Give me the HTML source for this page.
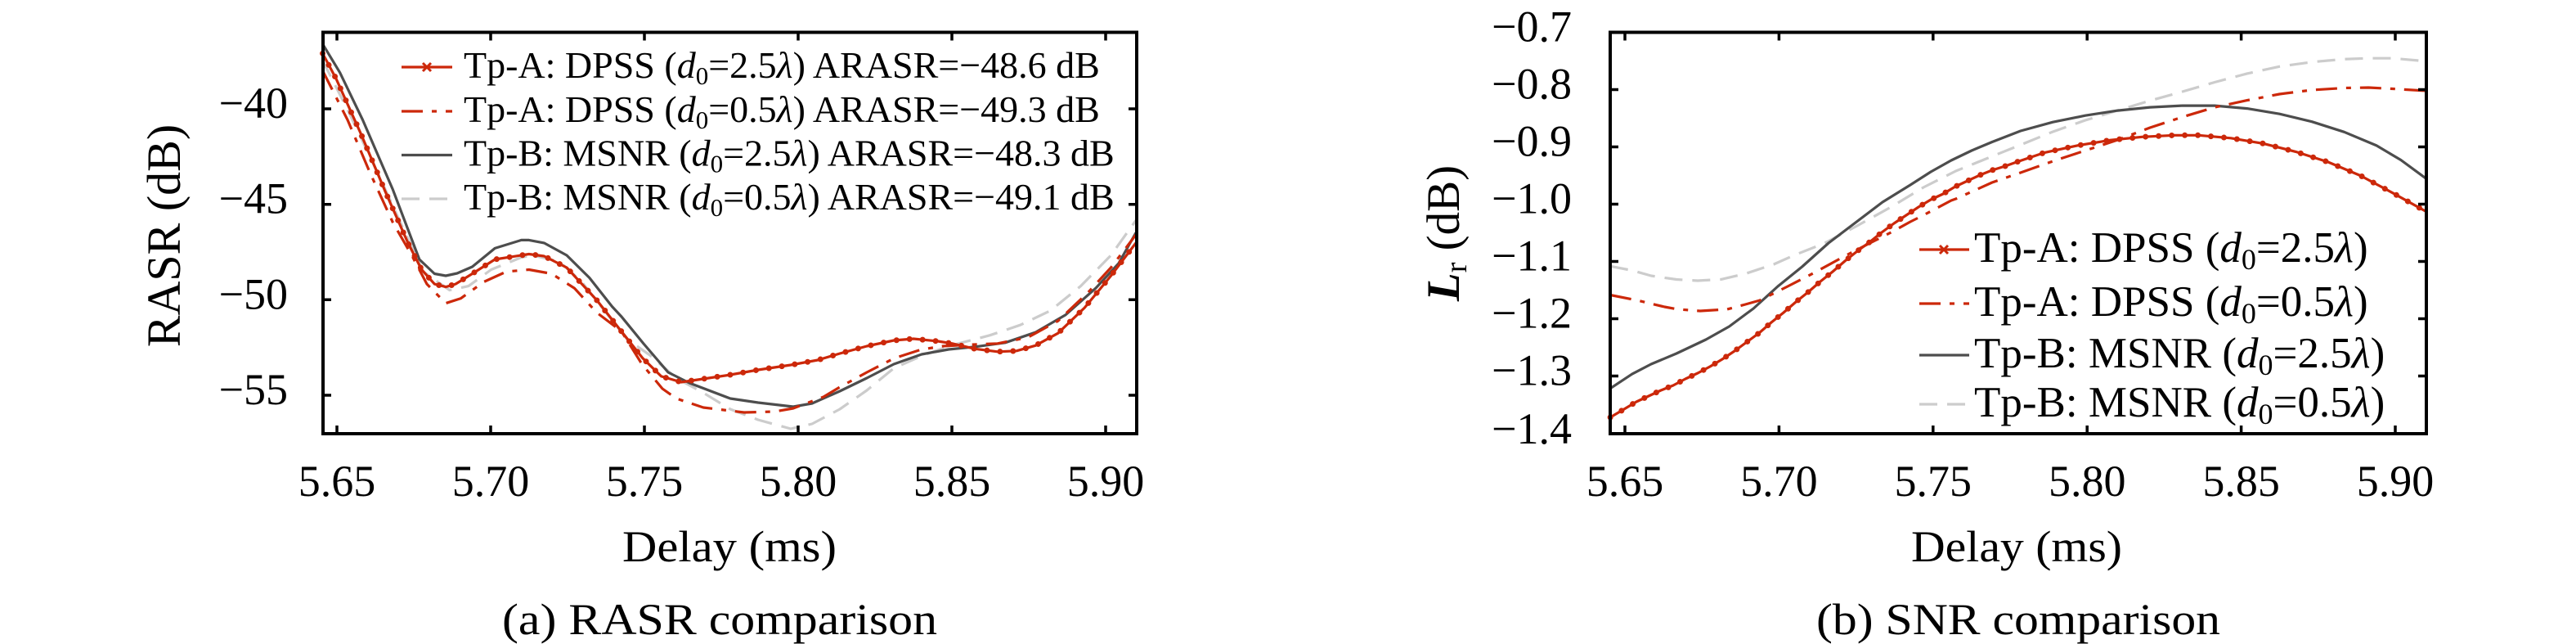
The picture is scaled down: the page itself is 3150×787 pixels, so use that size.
<!DOCTYPE html>
<html><head><meta charset="utf-8"><style>
html,body{margin:0;padding:0;background:#fff;}
svg{display:block;}
text{font-family:"Liberation Serif","DejaVu Serif",serif;fill:#000;}
</style></head><body>
<svg width="3150" height="787" viewBox="0 0 3150 787" xmlns="http://www.w3.org/2000/svg">
<rect width="3150" height="787" fill="#fff"/>

<!-- ============ LEFT PLOT ============ -->
<g fill="none" stroke-linejoin="round" stroke-linecap="butt">
<!-- B2 light gray dashed -->
<polyline stroke="#cccccc" stroke-width="3.2" stroke-dasharray="22 12" points="394.5,73.8 425.0,134.0 462.0,211.7 498.9,291.9 517.4,332.0 549.8,354.6 572.9,349.6 600.6,329.5 637.5,314.5 651.4,312.0 683.8,319.5 711.5,344.6 739.2,379.6 767.0,414.8 794.7,434.0 827,462 860,480 893,500 927,513 967,524 993,518 1027,500 1060,477 1093,450 1127,435 1160,423 1210.6,409.7 1247.6,397.2 1284.6,379.6 1321.5,349.6 1358.5,312.0 1389.0,269.3"/>
<!-- B1 dark gray solid -->
<polyline stroke="#4d4d4d" stroke-width="3.2" points="394.5,53.7 415.7,88.8 443.5,146.5 480.4,231.8 512.8,317.0 531.3,334.5 545.1,337.0 559.0,334.0 577.5,326.0 605.2,303.4 637.5,293.4 646.8,293.4 665.3,296.9 693.0,312.0 720.8,339.5 748.5,374.6 760,387 787,420 817,455 843,468 893,487 927,492 970,497 993,493 1027,478 1060,462 1093,445 1127,433 1160,427 1192.2,423.8 1229.1,418.8 1266.1,406.2 1303.1,384.7 1340.0,352.1 1367.8,322.0 1389.0,284.4"/>
<!-- A2 red dash-dot -->
<polyline stroke="#cc280a" stroke-width="3.2" stroke-dasharray="26 11 6 11" points="394.5,86.3 425.0,146.5 452.7,211.7 480.4,271.9 503.5,312.0 522.0,347.1 545.1,370.6 563.6,364.6 591.4,344.6 619.1,332.0 646.8,329.5 674.5,334.5 702.3,352.1 730.0,382.2 760,405 785,445 810,475 827,487 860,498 910,504 947,503 970,499 1007,485 1027,473 1060,455 1093,438 1127,427 1153,423 1182.9,421.3 1219.9,419.8 1256.9,412.3 1293.8,392.2 1330.8,357.1 1358.5,327.0 1389.0,286.9"/>
<!-- A1 red solid with markers -->
<polyline stroke="#cc280a" stroke-width="3.2" points="394.5,65.3 411.1,96.4 441.6,164.1 471.2,234.3 498.9,296.9 515.6,329.5 531.3,347.1 545.1,350.6 557.1,347.1 577.5,334.5 605.2,317.0 646.8,310.5 665.3,313.0 693.0,327.0 730.0,367.1 757.7,402.2 785.5,437.3 808.6,459.9 833,467 860,463 893,458 927,452 967,446 1000,440 1027,432 1060,423 1093,416 1117,414 1147,417 1164.4,419.8 1192.2,426.3 1219.9,429.8 1243.0,428.8 1266.1,422.3 1293.8,407.2 1326.2,376.1 1358.5,337.0 1389.0,296.9"/>
<polyline stroke="#cc280a" stroke-width="7" stroke-linecap="round" stroke-dasharray="0 16" points="394.5,65.3 411.1,96.4 441.6,164.1 471.2,234.3 498.9,296.9 515.6,329.5 531.3,347.1 545.1,350.6 557.1,347.1 577.5,334.5 605.2,317.0 646.8,310.5 665.3,313.0 693.0,327.0 730.0,367.1 757.7,402.2 785.5,437.3 808.6,459.9 833,467 860,463 893,458 927,452 967,446 1000,440 1027,432 1060,423 1093,416 1117,414 1147,417 1164.4,419.8 1192.2,426.3 1219.9,429.8 1243.0,428.8 1266.1,422.3 1293.8,407.2 1326.2,376.1 1358.5,337.0 1389.0,296.9"/>
</g>

<!-- left frame & ticks -->
<g stroke="#000" fill="none">
<rect x="395" y="39.5" width="995" height="490.5" stroke-width="4"/>
<path stroke-width="3.5" d="M412,530v-10 M600,530v-10 M788,530v-10 M976,530v-10 M1164,530v-10 M1352,530v-10
M412,39.5v10 M600,39.5v10 M788,39.5v10 M976,39.5v10 M1164,39.5v10 M1352,39.5v10
M395,133h10 M395,249.7h10 M395,366.3h10 M395,483h10
M1390,133h-10 M1390,249.7h-10 M1390,366.3h-10 M1390,483h-10"/>
</g>

<!-- left tick labels -->
<g font-size="54" text-anchor="end">
<text x="352" y="144">−40</text>
<text x="352" y="260.7">−45</text>
<text x="352" y="377.3">−50</text>
<text x="352" y="494">−55</text>
</g>
<g font-size="54" text-anchor="middle">
<text x="412" y="606">5.65</text>
<text x="600" y="606">5.70</text>
<text x="788" y="606">5.75</text>
<text x="976" y="606">5.80</text>
<text x="1164" y="606">5.85</text>
<text x="1352" y="606">5.90</text>
</g>
<text x="892" y="686" font-size="54" text-anchor="middle" textLength="262" lengthAdjust="spacingAndGlyphs">Delay (ms)</text>
<text x="880" y="775" font-size="54" text-anchor="middle" textLength="532" lengthAdjust="spacingAndGlyphs">(a) RASR comparison</text>
<text transform="translate(220,288) rotate(-90)" font-size="58" text-anchor="middle">RASR (dB)</text>

<!-- left legend -->
<g fill="none" stroke-width="3.2">
<line x1="491" y1="82" x2="553" y2="82" stroke="#cc280a"/>
<path d="M517,77l10,10 M517,87l10,-10" stroke="#cc280a" stroke-width="3"/>
<line x1="491" y1="136" x2="553" y2="136" stroke="#cc280a" stroke-dasharray="26 11 6 11"/>
<line x1="491" y1="189.5" x2="553" y2="189.5" stroke="#4d4d4d"/>
<line x1="491" y1="243" x2="553" y2="243" stroke="#cccccc" stroke-dasharray="22 12"/>
</g>
<g font-size="46">
<text x="567" y="95">Tp-A: DPSS (<tspan font-style="italic">d</tspan><tspan font-size="31" dy="8">0</tspan><tspan dy="-8">=2.5</tspan><tspan font-style="italic">λ</tspan>) ARASR=−48.6 dB</text>
<text x="567" y="149">Tp-A: DPSS (<tspan font-style="italic">d</tspan><tspan font-size="31" dy="8">0</tspan><tspan dy="-8">=0.5</tspan><tspan font-style="italic">λ</tspan>) ARASR=−49.3 dB</text>
<text x="567" y="202.5">Tp-B: MSNR (<tspan font-style="italic">d</tspan><tspan font-size="31" dy="8">0</tspan><tspan dy="-8">=2.5</tspan><tspan font-style="italic">λ</tspan>) ARASR=−48.3 dB</text>
<text x="567" y="256">Tp-B: MSNR (<tspan font-style="italic">d</tspan><tspan font-size="31" dy="8">0</tspan><tspan dy="-8">=0.5</tspan><tspan font-style="italic">λ</tspan>) ARASR=−49.1 dB</text>
</g>

<!-- ============ RIGHT PLOT ============ -->
<g fill="none" stroke-linejoin="round">
<polyline stroke="#cccccc" stroke-width="3.2" stroke-dasharray="22 12" points="1969.1,325.3 1995.8,330.5 2019,337 2050,341.5 2076,343 2104.6,341.4 2134.3,334.5 2169,323 2193.7,312 2219,302 2233.3,296 2269,277 2312.4,253 2352,229 2391.6,209 2431.2,193 2470.8,177 2510.3,161 2549.9,147 2589.5,135 2629.1,123 2668.7,112 2708.2,100.5 2747.8,89.9 2787.4,81.3 2827.0,75.8 2866.6,72.3 2896.2,71.2 2925.9,71.2 2966.5,74.8"/>
<polyline stroke="#4d4d4d" stroke-width="3.2" points="1969.1,474.7 1995.8,457.1 2019,445 2050,432 2086,415 2114.5,399 2136,383 2144.2,377 2173.9,350 2203.6,326 2236,297 2269,272 2302,247 2336,226 2361,210 2386,196 2411,184 2436,173.5 2470.8,160 2510.3,149.2 2549.9,141.2 2589.5,135.1 2629.1,131.1 2668.7,129.1 2708.2,129.1 2747.8,132.6 2787.4,139.2 2827.0,148.7 2866.6,161.3 2906.1,177.9 2935.8,195.5 2966.5,218.1"/>
<polyline stroke="#cc280a" stroke-width="3.2" stroke-dasharray="26 11 6 11" points="1969.1,360.5 2002,367 2035.4,375 2052,378 2079,380 2112,378 2134.3,372 2152,367 2186,350 2219,333 2252,315 2282.8,299 2312.4,284 2336,271 2352,263 2386,245 2391.6,243 2436,223 2470.8,211 2510.3,197 2549.9,184 2589.5,171 2629.1,156 2668.7,143 2708.2,131.1 2747.8,122.6 2787.4,115.0 2827.0,110.0 2866.6,107.5 2896.2,107.0 2925.9,108.5 2966.5,111.0"/>
<polyline stroke="#cc280a" stroke-width="3.2" points="1969.1,510 1986,500 2001,491 2016,484 2031,477 2046,471 2061,463 2076,456 2091,448 2106,439 2121,429 2136,418 2151,407 2166,394 2181,382 2196,369 2211,357 2226,344 2241,332 2256,319 2271,307 2286,296 2301,284 2316,273 2331,263 2346,253 2361,244 2376,237 2391,228 2406,221 2421,214 2436,208 2452,203 2466,198 2500.4,186.4 2540.0,177.9 2579.6,171.4 2619.2,167.3 2658.8,165.3 2688.5,165.3 2728.0,168.8 2767.6,175.4 2807.2,185.4 2846.8,198.0 2886.4,214.6 2925.9,235.8 2966.5,258.4"/>
<polyline stroke="#cc280a" stroke-width="7" stroke-linecap="round" stroke-dasharray="0 16" points="1969.1,510 1986,500 2001,491 2016,484 2031,477 2046,471 2061,463 2076,456 2091,448 2106,439 2121,429 2136,418 2151,407 2166,394 2181,382 2196,369 2211,357 2226,344 2241,332 2256,319 2271,307 2286,296 2301,284 2316,273 2331,263 2346,253 2361,244 2376,237 2391,228 2406,221 2421,214 2436,208 2452,203 2466,198 2500.4,186.4 2540.0,177.9 2579.6,171.4 2619.2,167.3 2658.8,165.3 2688.5,165.3 2728.0,168.8 2767.6,175.4 2807.2,185.4 2846.8,198.0 2886.4,214.6 2925.9,235.8 2966.5,258.4"/>
</g>

<!-- right frame & ticks -->
<g stroke="#000" fill="none">
<rect x="1969" y="39.5" width="998" height="490.5" stroke-width="4"/>
<path stroke-width="3.5" d="M1987,530v-10 M2175.4,530v-10 M2363.8,530v-10 M2552.2,530v-10 M2740.6,530v-10 M2929,530v-10
M1987,39.5v10 M2175.4,39.5v10 M2363.8,39.5v10 M2552.2,39.5v10 M2740.6,39.5v10 M2929,39.5v10
M1969,109.5h10 M1969,179.5h10 M1969,249.5h10 M1969,319.5h10 M1969,389.5h10 M1969,459.5h10
M2967,109.5h-10 M2967,179.5h-10 M2967,249.5h-10 M2967,319.5h-10 M2967,389.5h-10 M2967,459.5h-10"/>
</g>

<g font-size="54" text-anchor="end">
<text x="1922" y="50.5">−0.7</text>
<text x="1922" y="120.5">−0.8</text>
<text x="1922" y="190.5">−0.9</text>
<text x="1922" y="260.5">−1.0</text>
<text x="1922" y="330.5">−1.1</text>
<text x="1922" y="400.5">−1.2</text>
<text x="1922" y="470.5">−1.3</text>
<text x="1922" y="542">−1.4</text>
</g>
<g font-size="54" text-anchor="middle">
<text x="1987" y="606">5.65</text>
<text x="2175.4" y="606">5.70</text>
<text x="2363.8" y="606">5.75</text>
<text x="2552.2" y="606">5.80</text>
<text x="2740.6" y="606">5.85</text>
<text x="2929" y="606">5.90</text>
</g>
<text x="2466" y="686" font-size="54" text-anchor="middle" textLength="258" lengthAdjust="spacingAndGlyphs">Delay (ms)</text>
<text x="2468" y="775" font-size="54" text-anchor="middle" textLength="494" lengthAdjust="spacingAndGlyphs">(b) SNR comparison</text>
<text transform="translate(1784,285) rotate(-90)" font-size="57" text-anchor="middle"><tspan font-weight="bold" font-style="italic">L</tspan><tspan font-size="38" dy="9">r</tspan><tspan dy="-9"> (dB)</tspan></text>

<!-- right legend -->
<g fill="none" stroke-width="3.2">
<line x1="2347" y1="305" x2="2408" y2="305" stroke="#cc280a"/>
<path d="M2372,300l10,10 M2372,310l10,-10" stroke="#cc280a" stroke-width="3"/>
<line x1="2347" y1="371" x2="2408" y2="371" stroke="#cc280a" stroke-dasharray="26 11 6 11"/>
<line x1="2347" y1="434" x2="2408" y2="434" stroke="#4d4d4d"/>
<line x1="2347" y1="494" x2="2408" y2="494" stroke="#cccccc" stroke-dasharray="22 12"/>
</g>
<g font-size="53">
<text x="2414" y="320">Tp-A: DPSS (<tspan font-style="italic">d</tspan><tspan font-size="36" dy="9">0</tspan><tspan dy="-9">=2.5</tspan><tspan font-style="italic">λ</tspan>)</text>
<text x="2414" y="386">Tp-A: DPSS (<tspan font-style="italic">d</tspan><tspan font-size="36" dy="9">0</tspan><tspan dy="-9">=0.5</tspan><tspan font-style="italic">λ</tspan>)</text>
<text x="2414" y="449">Tp-B: MSNR (<tspan font-style="italic">d</tspan><tspan font-size="36" dy="9">0</tspan><tspan dy="-9">=2.5</tspan><tspan font-style="italic">λ</tspan>)</text>
<text x="2414" y="509">Tp-B: MSNR (<tspan font-style="italic">d</tspan><tspan font-size="36" dy="9">0</tspan><tspan dy="-9">=0.5</tspan><tspan font-style="italic">λ</tspan>)</text>
</g>
</svg>
</body></html>
